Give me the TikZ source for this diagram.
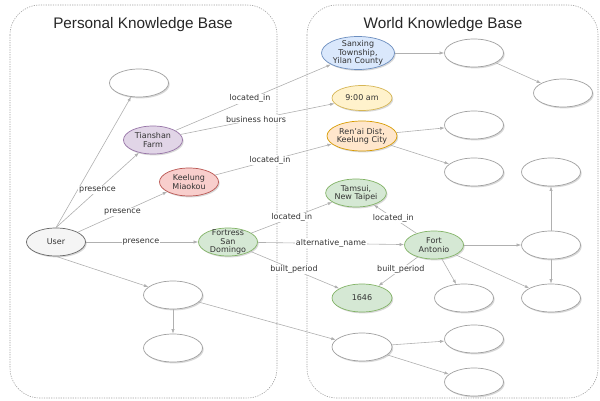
\documentclass[tikz,border=0pt]{standalone}
\usepackage{fontspec}
\setmainfont{DejaVu Sans}
\newfontfamily\titlefont{Liberation Sans}
\usetikzlibrary{shapes.geometric,arrows.meta,shadows}

\definecolor{edgegray}{HTML}{B0B0B0}
\definecolor{txtgray}{HTML}{333333}
\definecolor{userfill}{HTML}{F5F5F5}\definecolor{userdraw}{HTML}{666666}
\definecolor{purfill}{HTML}{E1D5E7}\definecolor{purdraw}{HTML}{9673A6}
\definecolor{redfill}{HTML}{F8CECC}\definecolor{reddraw}{HTML}{B85450}
\definecolor{grnfill}{HTML}{D5E8D4}\definecolor{grndraw}{HTML}{82B366}
\definecolor{blufill}{HTML}{DAE8FC}\definecolor{bludraw}{HTML}{6C8EBF}
\definecolor{yelfill}{HTML}{FFF2CC}\definecolor{yeldraw}{HTML}{D6B656}
\definecolor{orgfill}{HTML}{FFE6CC}\definecolor{orgdraw}{HTML}{D79B00}
\definecolor{boxdraw}{HTML}{A0A0A0}

\tikzset{
  kbnode/.style={ellipse, draw=gray!75, fill=white, line width=0.7pt,
    inner sep=0pt, minimum width=59pt, minimum height=28pt, align=center,
    text=txtgray, font=\fontsize{8}{8.3}\selectfont,
    drop shadow={shadow xshift=1.2pt, shadow yshift=-1.4pt, opacity=0.3, fill=gray}},
  usernode/.style={kbnode, fill=userfill, draw=userdraw},
  purnode/.style={kbnode, fill=purfill, draw=purdraw},
  rednode/.style={kbnode, fill=redfill, draw=reddraw},
  grnnode/.style={kbnode, fill=grnfill, draw=grndraw},
  blunode/.style={kbnode, fill=blufill, draw=bludraw},
  yelnode/.style={kbnode, fill=yelfill, draw=yeldraw},
  orgnode/.style={kbnode, fill=orgfill, draw=orgdraw},
  rel/.style={draw=edgegray, line width=0.6pt,
    -{Latex[length=4.5pt,width=3.2pt,fill=edgegray]}},
  lbl/.style={fill=white, inner sep=0.8pt, text=txtgray,
    font=\fontsize{8}{9}\selectfont},
  kbbox/.style={draw=boxdraw, line width=0.6pt, dash pattern=on 1.2pt off 1.2pt,
    rounded corners=30pt},
  kbtitle/.style={font=\titlefont\fontsize{15.3}{17}\selectfont, text=black!85}
}

\begin{document}
\begin{tikzpicture}[x=1pt,y=-1pt]
\useasboundingbox (0,0) rectangle (600,401);

% the two knowledge bases
\draw[kbbox] (10,5) rectangle (277,398);
\draw[kbbox] (307,5) rectangle (598,398);
\node[kbtitle] (ptitle) at (143,25) {Personal Knowledge Base};
\node[kbtitle] (wtitle) at (443,25) {World Knowledge Base};

% personal side
\node[kbnode] (p1) at (139,83) {};
\node[purnode] (tian) at (153,140) {Tianshan\\Farm};
\node[rednode] (keel) at (189,182) {Keelung\\Miaokou};
\node[usernode] (user) at (56,242) {User};
\node[grnnode, inner ysep=-3.5pt, inner xsep=-1pt] (fort) at (228,242) {Fortress\\San\\Domingo};
\node[kbnode] (p2) at (173,295) {};
\node[kbnode] (p3) at (173,348) {};

% world side
\node[blunode, minimum width=73pt, minimum height=33pt, inner xsep=-4pt, inner ysep=-3.5pt] (sanx) at (358,53) {Sanxing\\Township,\\Yilan County};
\node[kbnode] (w1) at (474,53) {};
\node[kbnode] (w2) at (563,93) {};
\node[yelnode, minimum width=60pt, minimum height=25pt] (nine) at (362,98) {9:00 am};
\node[orgnode, minimum width=70pt, minimum height=30pt, inner xsep=-2pt] (renai) at (362,136) {Ren'ai Dist,\\Keelung City};
\node[kbnode] (w3) at (474,125) {};
\node[kbnode] (w4) at (474,172) {};
\node[kbnode] (w5) at (551,172) {};
\node[grnnode] (tams) at (356,193) {Tamsui,\\New Taipei};
\node[grnnode] (anto) at (434,245) {Fort\\Antonio};
\node[kbnode] (w6) at (551,245) {};
\node[grnnode, minimum width=60pt] (y1646) at (362,298) {1646};
\node[kbnode] (w7) at (464,298) {};
\node[kbnode] (w8) at (551,298) {};
\node[kbnode, minimum width=60pt] (w9) at (362,347) {};
\node[kbnode] (w10) at (474,339) {};
\node[kbnode] (w11) at (474,382) {};

% relations from the user
\draw[rel] (user.north) -- (p1);
\draw[rel] (user.north) -- node[lbl, pos=0.5] {presence} (tian);
\draw[rel] (user) -- node[lbl, pos=0.5] {presence} (keel);
\draw[rel] (user) -- node[lbl, pos=0.49] {presence} (fort);
\draw[rel] (user.south) -- (p2);
\draw[rel] (p2) -- (p3);
\draw[rel] (p2) -- (w9);

% relations of the places
\draw[rel] (tian) -- node[lbl, pos=0.48] {located\_in} (sanx);
\draw[rel] (tian) -- node[lbl, pos=0.49] {business hours} (nine);
\draw[rel] (keel) -- node[lbl, pos=0.47] {located\_in} (renai);
\draw[rel] (fort) -- node[lbl, pos=0.5] {located\_in} (tams);
\draw[rel] (fort) -- node[lbl, pos=0.5] {alternative\_name} (anto);
\draw[rel] (fort) -- node[lbl, pos=0.49] {built\_period} (y1646);
\draw[rel] (anto) -- node[lbl, pos=0.54] {located\_in} (tams);
\draw[rel] (anto) -- node[lbl, pos=0.43] {built\_period} (y1646);

% further links in the world knowledge base
\draw[rel] (sanx) -- (w1);
\draw[rel] (w1) -- (w2);
\draw[rel] (renai) -- (w3);
\draw[rel] (renai) -- (w4);
\draw[rel] (anto) -- (w7);
\draw[rel] (anto) -- (w6);
\draw[rel] (anto) -- (w8);
\draw[rel] (w6) -- (w5);
\draw[rel] (w6) -- (w8);
\draw[rel] (w9) -- (w10);
\draw[rel] (w9) -- (w11);
\end{tikzpicture}
\end{document}
